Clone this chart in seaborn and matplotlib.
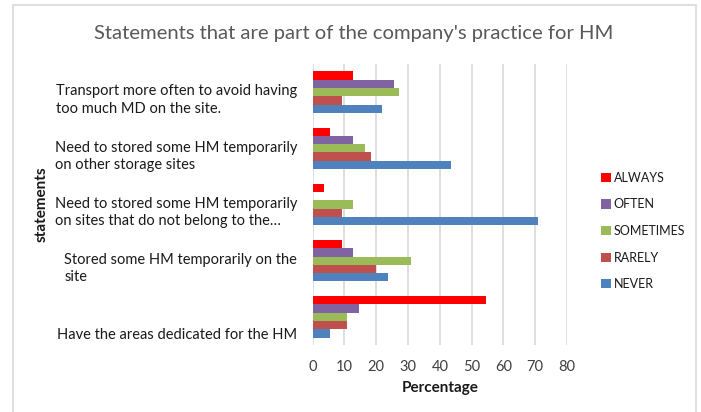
import matplotlib
matplotlib.use("Agg")
import matplotlib.pyplot as plt
import matplotlib.transforms as mtransforms
import seaborn as sns
import pandas as pd

categories = [
    "Transport more often to avoid having\ntoo much MD on the site.",
    "Need to stored some HM temporarily\non other storage sites",
    "Need to stored some HM temporarily\non sites that do not belong to the…",
    "Stored some HM temporarily on the\nsite",
    "Have the areas dedicated for the HM",
]
series_names = ["ALWAYS", "OFTEN", "SOMETIMES", "RARELY", "NEVER"]
always = [12.7, 5.5, 3.6, 9.1, 54.5]
often = [25.5, 12.7, 0.0, 12.7, 14.5]
sometimes = [27.3, 16.4, 12.7, 30.9, 10.9]
rarely = [9.1, 18.2, 9.1, 20.0, 10.9]
never = [21.8, 43.6, 70.9, 23.6, 5.5]
x_ticks = [0, 10, 20, 30, 40, 50, 60, 70, 80]

title = "Statements that are part of the company's practice for HM"
x_label = "Percentage"
y_label = "statements"

colors = ["#FF0000", "#8064A2", "#9BBB59", "#C0504D", "#4F81BD"]
label_offsets_px = [8, 8, 8, 8, 18]

rows = []
for name, vals in zip(series_names, [always, often, sometimes, rarely, never]):
    for cat, v in zip(categories, vals):
        rows.append({"statement": cat, "value": v, "series": name})
df = pd.DataFrame(rows)

sns.set_theme(style="white")
plt.rcParams["font.family"] = ["Lato", "DejaVu Sans"]

fig = plt.figure(figsize=(7.01, 4.12), dpi=100)
ax = fig.add_axes([312.7 / 701, 1 - 345 / 412, (567 - 312.7) / 701, (345 - 64) / 412])

sns.barplot(data=df, y="statement", x="value", hue="series", order=categories,
            hue_order=series_names, palette=colors, orient="h", width=0.74,
            saturation=1, edgecolor="none", linewidth=0, ax=ax, errorbar=None)

ax.set_xlim(0, 80)
ax.set_xticks(x_ticks)
ax.set_xticklabels([str(t) for t in x_ticks], fontsize=10.5, color="#404040")
ax.tick_params(axis="x", length=0, pad=11)
ax.tick_params(axis="y", length=0)
ax.xaxis.grid(True, color="#D9D9D9", linewidth=1.2)
ax.set_axisbelow(True)
for s in ["top", "right", "bottom", "left"]:
    ax.spines[s].set_visible(False)

ax.set_yticks(range(len(categories)))
ax.set_yticklabels([""] * len(categories))
for i, (cat, off) in enumerate(zip(categories, label_offsets_px)):
    tr = mtransforms.blended_transform_factory(ax.transAxes, ax.transData) + \
        mtransforms.ScaledTranslation(-15.5 / 100, -off / 100, fig.dpi_scale_trans)
    ax.text(0, i, cat, transform=tr, ha="right", va="center", multialignment="left",
            fontsize=10.5, color="#1a1a1a", linespacing=1.3)

ax.set_xlabel(x_label, fontsize=11, fontweight="bold", color="#1a1a1a", labelpad=5)
ax.set_ylabel("")
fig.text(42 / 701, 1 - 204 / 412, y_label, rotation=90, ha="center", va="center",
         fontsize=11, fontweight="bold", color="#1a1a1a")

fig.text(354 / 701, 1 - 33 / 412, title, ha="center", va="center",
         fontsize=14.6, color="#595959")

handles, labels = ax.get_legend_handles_labels()
ax.legend(handles, labels, loc="center left", bbox_to_anchor=(590 / 701, 1 - 231 / 412),
          bbox_transform=fig.transFigure, frameon=False, fontsize=9,
          handlelength=0.75, handleheight=0.75, handletextpad=0.25, labelspacing=1.17,
          labelcolor="#1a1a1a")

border = plt.Rectangle((13 / 701, -0.05), (696 - 13) / 701, 1.05 - 5 / 412,
                       transform=fig.transFigure, fill=False, edgecolor="#D9D9D9",
                       linewidth=1.2)
fig.patches.append(border)

fig.savefig("out.png", dpi=100)
